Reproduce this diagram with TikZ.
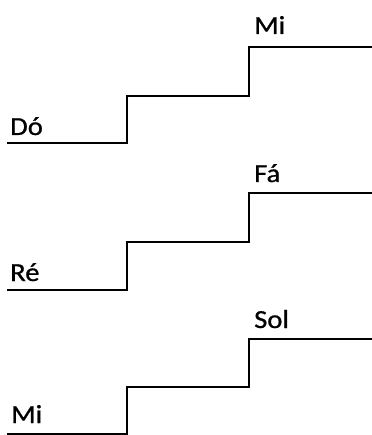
\documentclass[tikz,border=0pt]{standalone}
\usepackage{fontspec}
\setmainfont{Carlito}
\newfontfamily\lblfont[FakeBold=0.8]{Carlito}
\begin{document}
\begin{tikzpicture}[x=1pt,y=-1pt,
  stair/.style={line width=2.6pt, line join=miter, black},
  lbl/.style={anchor=base west, inner sep=0pt, font=\lblfont\fontsize{26}{30}\selectfont}]
\useasboundingbox (0,0) rectangle (371,435);
% staircase 1
\coordinate (a0) at (7,143); \coordinate (a1) at (127,143); \coordinate (a2) at (127,96);
\coordinate (a3) at (249,96); \coordinate (a4) at (249,47); \coordinate (a5) at (372,47);
\draw[stair] (a0) -- (a1) -- (a2) -- (a3) -- (a4) -- (a5);
\node[lbl] (do) at (10,135) {\scalebox{1.1}[1]{Dó}};
\node[lbl] (mi1) at (254,34) {\scalebox{1.1}[1]{Mi}};
% staircase 2
\coordinate (b0) at (7,290); \coordinate (b1) at (127,290); \coordinate (b2) at (127,242);
\coordinate (b3) at (249,242); \coordinate (b4) at (249,193); \coordinate (b5) at (372,193);
\draw[stair] (b0) -- (b1) -- (b2) -- (b3) -- (b4) -- (b5);
\node[lbl] (re) at (10,281) {\scalebox{1.1}[1]{Ré}};
\node[lbl] (fa) at (254,182) {\scalebox{1.1}[1]{Fá}};
% staircase 3
\coordinate (c0) at (7,434.5); \coordinate (c1) at (127,434.5); \coordinate (c2) at (127,387);
\coordinate (c3) at (249,387); \coordinate (c4) at (249,339); \coordinate (c5) at (372,339);
\draw[stair] (c0) -- (c1) -- (c2) -- (c3) -- (c4) -- (c5);
\node[lbl] (mi2) at (11,423) {\scalebox{1.1}[1]{Mi}};
\node[lbl] (sol) at (254,328) {\scalebox{1.1}[1]{Sol}};
\end{tikzpicture}
\end{document}
